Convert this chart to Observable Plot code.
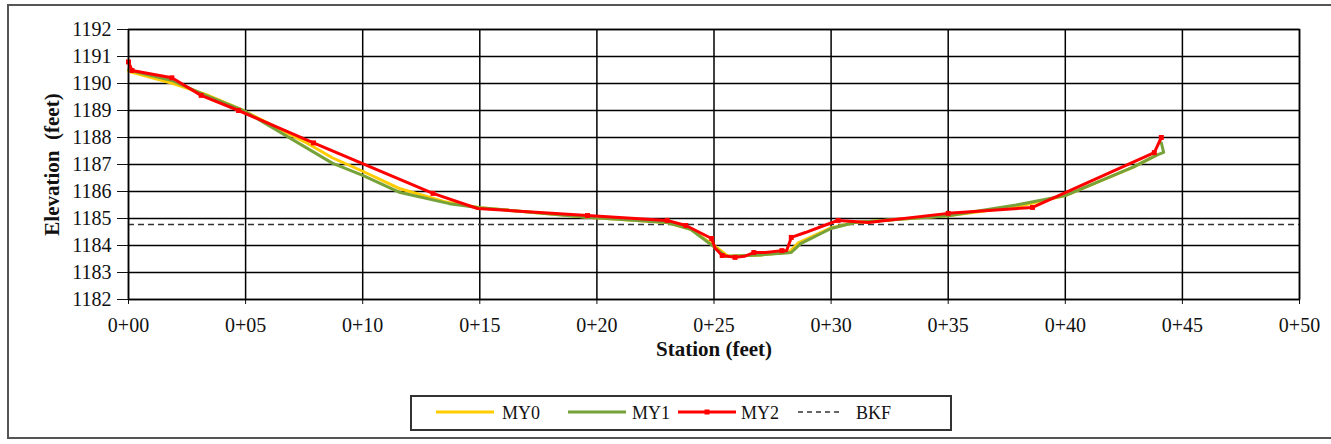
<!DOCTYPE html>
<html>
<head>
<meta charset="utf-8">
<script src="https://cdn.jsdelivr.net/npm/d3@7"></script>
<script src="https://cdn.jsdelivr.net/npm/@observablehq/plot@0.6"></script>
<style>
  body { margin: 0; background: #fff; }
  #wrap { position: relative; width: 1331px; height: 444px; overflow: hidden; background: #fff; font-family: "Liberation Serif", "Times New Roman", "DejaVu Serif", serif; }
  #outer { position: absolute; left: 7px; top: 4px; width: 1340px; height: 435px; border: 2px solid #555; box-sizing: border-box; }
  #chart { position: absolute; left: 0; top: 0; }
  #legend { position: absolute; left: 410px; top: 395px; width: 542px; height: 36px; border: 2px solid #333; box-sizing: border-box; background: #fff; }
  .lg { position: absolute; top: 0; height: 32px; line-height: 32px; font-size: 18px; color: #111; font-family: "Liberation Serif", "Times New Roman", serif; }
  .lg svg { display: block; margin-top: 11px; }
  #chart svg, #chart svg text { font-family: "Liberation Serif", "Times New Roman", serif !important; }
</style>
</head>
<body>
<div id="wrap">
  <div id="outer"></div>
  <div id="chart"></div>
  <div id="legend"></div>
</div>
<script>
// ---- data ----
const seriesNames = ["MY0", "MY1", "MY2"];
const seriesColors = ["#FFCC00", "#77A23A", "#FF0000"];
const bkfLabel = "BKF";
const bkfElevation = 1184.78;

const my0Station = [0, 1.9, 3.3, 4.9, 7.5, 8.7, 10, 11.6, 13.5, 15, 19.6, 23, 24, 25, 25.6, 27, 28.2, 28.6, 30, 31, 35, 38, 40, 42.9, 43.9];
const my0Elev    = [1190.45, 1190.0, 1189.6, 1189.0, 1187.85, 1187.25, 1186.75, 1186.1, 1185.62, 1185.4, 1185.05, 1184.85, 1184.6, 1184.0, 1183.6, 1183.65, 1183.75, 1184.1, 1184.65, 1184.85, 1185.1, 1185.45, 1185.85, 1186.9, 1187.35];

const my1Station = [0, 1.9, 3.2, 4.9, 8.7, 10, 11.6, 13.7, 15, 19.6, 23, 24, 25, 25.5, 27, 28.3, 28.7, 30, 31, 35, 37.9, 40, 42.9, 43.9, 44.2, 44.1];
const my1Elev    = [1190.5, 1190.1, 1189.6, 1189.0, 1187.05, 1186.6, 1185.96, 1185.55, 1185.4, 1185.05, 1184.85, 1184.6, 1183.95, 1183.6, 1183.65, 1183.74, 1184.07, 1184.63, 1184.85, 1185.1, 1185.5, 1185.85, 1186.9, 1187.35, 1187.45, 1187.8];

const my2Station = [0, 0.15, 1.85, 3.1, 4.7, 7.9, 13.0, 14.9, 19.6, 23.0, 23.8, 24.9, 25.05, 25.35, 25.9, 26.3, 26.7, 27.2, 27.9, 28.1, 28.3, 28.9, 29.7, 30.3, 31.6, 35.0, 38.6, 43.8, 44.1];
const my2Elev    = [1190.8, 1190.48, 1190.21, 1189.56, 1189.0, 1187.8, 1185.93, 1185.37, 1185.11, 1184.93, 1184.74, 1184.26, 1183.9, 1183.63, 1183.56, 1183.6, 1183.74, 1183.74, 1183.81, 1183.81, 1184.3, 1184.48, 1184.74, 1184.93, 1184.85, 1185.19, 1185.41, 1187.44, 1188.0];
const my2Markers = [0, 0.15, 1.85, 3.1, 4.7, 7.9, 13.0, 19.6, 23.0, 23.8, 24.9, 25.35, 25.9, 26.7, 27.9, 28.3, 30.3, 35.0, 38.6, 43.8, 44.1];

const xTicks = [0, 5, 10, 15, 20, 25, 30, 35, 40, 45, 50];
const yTicks = [1182, 1183, 1184, 1185, 1186, 1187, 1188, 1189, 1190, 1191, 1192];
const xLabel = "Station (feet)";
const yLabel = "Elevation  (feet)";

// ---- tables ----
const toRows = (xs, ys, name) => xs.map((x, i) => ({station: x, elev: ys[i], series: name}));
const my0 = toRows(my0Station, my0Elev, "MY0");
const my1 = toRows(my1Station, my1Elev, "MY1");
const my2 = toRows(my2Station, my2Elev, "MY2");
const my2m = my2.filter(d => my2Markers.includes(d.station));

const fmtStation = d => "0+" + String(d).padStart(2, "0");

const chart = Plot.plot({
  width: 1331,
  height: 380,
  marginLeft: 128,
  marginRight: 32,
  marginTop: 29,
  marginBottom: 81,
  style: {fontSize: "20px", color: "#111", background: "transparent", overflow: "visible"},
  x: {domain: [0, 50], ticks: xTicks, tickFormat: fmtStation, tickSize: 5, tickPadding: 13, label: null},
  y: {domain: [1182, 1192], ticks: yTicks, tickFormat: d => String(d), tickSize: 11, tickPadding: 6, label: null},
  marks: [
    Plot.ruleX(xTicks, {stroke: "#000", strokeWidth: 1.5}),
    Plot.ruleY(yTicks, {stroke: "#000", strokeWidth: 1.5}),
    Plot.ruleY([bkfElevation], {stroke: "#333", strokeWidth: 1.6, strokeDasharray: "6,4"}),
    Plot.line(my0, {x: "station", y: "elev", stroke: seriesColors[0], strokeWidth: 3}),
    Plot.line(my1, {x: "station", y: "elev", stroke: seriesColors[1], strokeWidth: 3}),
    Plot.line(my2, {x: "station", y: "elev", stroke: seriesColors[2], strokeWidth: 3}),
    Plot.dot(my2m, {x: "station", y: "elev", symbol: "square", r: 2.8, fill: seriesColors[2], stroke: "none"}),
    Plot.frame({stroke: "#000", strokeWidth: 1.5}),
    Plot.text([xLabel], {frameAnchor: "bottom", dy: 56, text: d => d, fontWeight: "bold", fontSize: 21, fill: "#111"}),
    Plot.text([yLabel], {frameAnchor: "left", textAnchor: "middle", dx: -76, rotate: -90, text: d => d, fontWeight: "bold", fontSize: 21, fill: "#111"})
  ]
});
chart.style.whiteSpace = "pre";
document.getElementById("chart").appendChild(chart);

// ---- legend ----
const legend = document.getElementById("legend");
const items = [
  {label: seriesNames[0], color: seriesColors[0], dash: null, marker: false, lineLeft: 24, textLeft: 90},
  {label: seriesNames[1], color: seriesColors[1], dash: null, marker: false, lineLeft: 156, textLeft: 220},
  {label: seriesNames[2], color: seriesColors[2], dash: null, marker: true, lineLeft: 266, textLeft: 329},
  {label: bkfLabel, color: "#333", dash: "5,4", marker: false, lineLeft: 386, textLeft: 444}
];
for (const it of items) {
  const ld = document.createElement("div");
  ld.className = "lg";
  ld.style.left = it.lineLeft + "px";
  const w = it.dash ? 42 : 58;
  const svg = d3.create("svg").attr("width", w).attr("height", 8);
  svg.append("line").attr("x1", 0).attr("x2", w).attr("y1", 4).attr("y2", 4)
    .attr("stroke", it.color).attr("stroke-width", it.dash ? 1.5 : 3)
    .attr("stroke-dasharray", it.dash);
  if (it.marker) svg.append("rect").attr("x", w / 2 - 2.5).attr("y", 1.5).attr("width", 5).attr("height", 5).attr("fill", it.color);
  ld.appendChild(svg.node());
  legend.appendChild(ld);
  const td = document.createElement("div");
  td.className = "lg";
  td.style.left = it.textLeft + "px";
  td.textContent = it.label;
  legend.appendChild(td);
}
</script>
</body>
</html>
